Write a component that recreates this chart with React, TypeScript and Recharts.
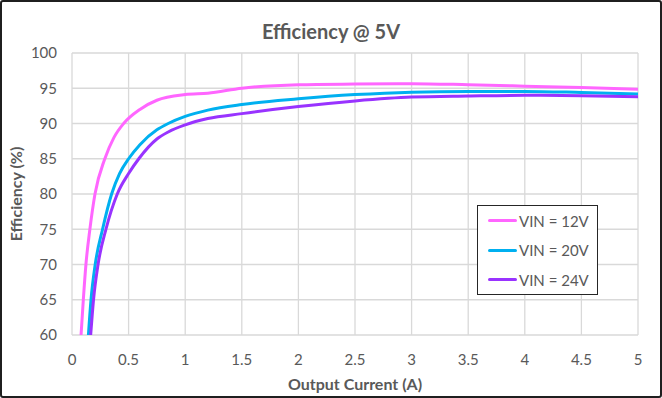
import { LineChart, Line, XAxis, YAxis, CartesianGrid } from 'recharts';

// Efficiency curves (x = output current in A, y = efficiency in %)
const current12V = [0.08, 0.1, 0.123, 0.158, 0.203, 0.29, 0.37, 0.456, 0.6, 0.75, 1.0, 1.2, 1.5, 2.0, 2.5, 3.0, 3.5, 4.0, 4.5, 5.0];
const eff12V = [60, 65, 70, 75, 80, 85, 88, 90, 92.0, 93.3, 94.1, 94.3, 95.0, 95.5, 95.6, 95.65, 95.5, 95.3, 95.1, 94.85];

const current20V = [0.145, 0.168, 0.205, 0.27, 0.35, 0.42, 0.5, 0.6, 0.75, 0.85, 1.0, 1.2, 1.5, 2.0, 2.5, 3.0, 3.5, 4.0, 4.5, 5.0];
const eff20V = [60, 65, 70, 75, 80, 82.9, 85, 87.0, 89.1, 90.0, 91.0, 91.9, 92.7, 93.5, 94.1, 94.45, 94.55, 94.55, 94.4, 94.2];

const current24V = [0.165, 0.19, 0.23, 0.3, 0.4, 0.5, 0.59, 0.75, 0.85, 1.0, 1.2, 1.5, 2.0, 2.5, 3.0, 3.5, 4.0, 4.5, 5.0];
const eff24V = [60, 65, 70, 75, 80, 82.9, 85, 87.8, 88.8, 89.8, 90.7, 91.4, 92.4, 93.2, 93.75, 93.9, 94.0, 93.95, 93.8];

const xTicks = [0, 0.5, 1, 1.5, 2, 2.5, 3, 3.5, 4, 4.5, 5];
const yTicks = [60, 65, 70, 75, 80, 85, 90, 95, 100];

const toPoints = (xs: number[], ys: number[]) => xs.map((x, i) => ({ current: x, eff: ys[i] }));

const series = [
  { name: 'VIN = 12V', color: '#FF66FF', data: toPoints(current12V, eff12V) },
  { name: 'VIN = 20V', color: '#00B0F0', data: toPoints(current20V, eff20V) },
  { name: 'VIN = 24V', color: '#9933FF', data: toPoints(current24V, eff24V) },
];

const FONT = 'Lato, "Open Sans", sans-serif';
const TEXT = '#595959';

// legend box drawn over the plot, like the boxed legend in the original sheet
const BoxLegend = () => (
  <div
    style={{
      position: 'absolute',
      left: 475,
      top: 203,
      width: 121,
      height: 90,
      border: '1.5px solid #262626',
      background: '#FFFFFF',
      boxSizing: 'border-box',
      paddingLeft: 10,
    }}
  >
    {series.map((s) => (
      <div key={s.name} style={{ display: 'flex', alignItems: 'center', height: 29.5 }}>
        <span style={{ display: 'inline-block', width: 29, height: 3, background: s.color, borderRadius: 2 }} />
        <span style={{ marginLeft: 2, fontFamily: FONT, fontSize: 15, color: TEXT }}>{s.name}</span>
      </div>
    ))}
  </div>
);

export default function App() {
  return (
    <div
      style={{
        position: 'absolute',
        left: 0,
        top: 0,
        width: 662,
        height: 398,
        background: '#FFFFFF',
        border: '2px solid #1F1F1F',
        borderRadius: 3,
        boxSizing: 'border-box',
      }}
    >
      <div
        style={{
          position: 'absolute',
          left: 0,
          right: 0,
          top: 17,
          textAlign: 'center',
          fontFamily: FONT,
          fontWeight: 700,
          fontSize: 20,
          color: TEXT,
        }}
      >
        Efficiency @ 5V
      </div>
      <LineChart
        width={662}
        height={398}
        style={{ position: 'absolute', left: -2, top: -2 }}
        margin={{ top: 53, right: 24, left: 0, bottom: 0 }}
      >
        <CartesianGrid stroke="#D9D9D9" strokeWidth={1.3} />
        <XAxis
          dataKey="current"
          type="number"
          domain={[0, 5]}
          ticks={xTicks}
          axisLine={false}
          tickLine={false}
          tickMargin={13}
          height={63}
          tick={{ fill: TEXT, fontSize: 15, fontFamily: FONT }}
          label={{
            value: 'Output Current (A)',
            position: 'insideBottom',
            offset: 8,
            style: { fill: TEXT, fontSize: 16, fontWeight: 700, fontFamily: FONT },
          }}
        />
        <YAxis
          type="number"
          domain={[60, 100]}
          ticks={yTicks}
          axisLine={false}
          tickLine={false}
          tickMargin={9}
          width={72}
          tick={{ fill: TEXT, fontSize: 15, fontFamily: FONT }}
          label={{
            value: 'Efficiency (%)',
            angle: -90,
            position: 'insideLeft',
            offset: 16,
            style: { textAnchor: 'middle', fill: TEXT, fontSize: 16, fontWeight: 700, fontFamily: FONT },
          }}
        />
        {series.map((s) => (
          <Line
            key={s.name}
            data={s.data}
            dataKey="eff"
            name={s.name}
            type="monotone"
            stroke={s.color}
            strokeWidth={3}
            dot={false}
            activeDot={false}
            isAnimationActive={false}
          />
        ))}
      </LineChart>
      <BoxLegend />
    </div>
  );
}
